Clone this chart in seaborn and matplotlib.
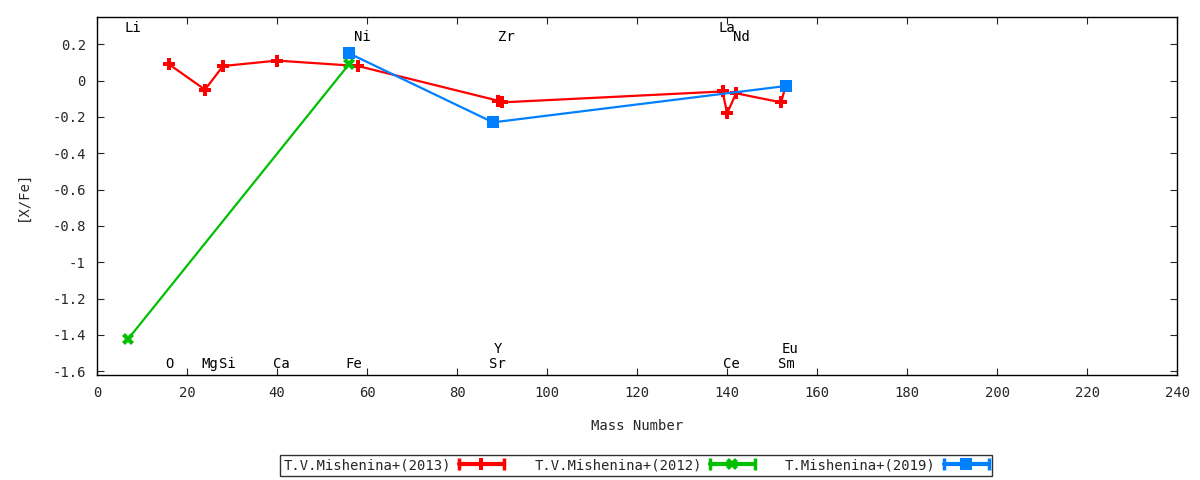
import numpy as np
import pandas as pd
import matplotlib
matplotlib.use("Agg")
import matplotlib.pyplot as plt
import seaborn as sns
from matplotlib.lines import Line2D
from matplotlib.legend_handler import HandlerLine2D

# ---- data ----
mass_2013 = [16, 24, 28, 40, 58, 89, 90, 139, 140, 142, 152, 153]
xfe_2013 = [0.09, -0.05, 0.08, 0.11, 0.08, -0.11, -0.12, -0.06, -0.18, -0.07, -0.12, -0.03]
mass_2012 = [7, 56]
xfe_2012 = [-1.42, 0.09]
mass_2019 = [56, 88, 153]
xfe_2019 = [0.15, -0.23, -0.03]

series_names = ["T.V.Mishenina+(2013)", "T.V.Mishenina+(2012)", "T.Mishenina+(2019)"]
series_colors = ["#ff0000", "#00c000", "#0080ff"]
series_markers = ["P", "X", "s"]

elem_names = ["Li", "Ni", "Zr", "La", "Nd", "O", "Mg", "Si", "Ca", "Fe", "Y", "Sr", "Ce", "Eu", "Sm"]
elem_mass = [7, 58, 90, 139, 142, 16, 24, 28, 40, 56, 89, 88, 140, 153, 152]
elem_ypos = [0.29, 0.24, 0.24, 0.29, 0.24, -1.56, -1.56, -1.56, -1.56, -1.56, -1.48, -1.56, -1.56, -1.48, -1.56]

xticks = list(range(0, 241, 20))
yticks = [0.2, 0, -0.2, -0.4, -0.6, -0.8, -1, -1.2, -1.4, -1.6]

FS = 10

# ---- style ----
sns.set_style("ticks")
plt.rcParams["font.family"] = ["DejaVu Sans Mono", "DejaVu Sans"]
plt.rcParams["font.size"] = FS

fig = plt.figure(figsize=(12, 4.8), dpi=100)
ax = fig.add_axes([0.0808, 0.219, 0.9002, 0.7456])

frames = [
    pd.DataFrame({"mass": mass_2013, "xfe": xfe_2013}),
    pd.DataFrame({"mass": mass_2012, "xfe": xfe_2012}),
    pd.DataFrame({"mass": mass_2019, "xfe": xfe_2019}),
]
sizes = [9, 8, 8]
for df, c, m, s in zip(frames, series_colors, series_markers, sizes):
    sns.lineplot(data=df, x="mass", y="xfe", ax=ax, color=c, marker=m,
                 markersize=s, markeredgewidth=0, linewidth=1.6,
                 estimator=None, sort=False, legend=False)

for name, mx, yy in zip(elem_names, elem_mass, elem_ypos):
    ax.text(mx - 0.8, yy, name, ha="left", va="center", fontsize=FS, color="black")

ax.set_xlim(0, 240)
ax.set_ylim(-1.62, 0.35)
ax.set_xticks(xticks)
ax.set_yticks(yticks)
ax.set_yticklabels([("%g" % v) for v in yticks])
ax.tick_params(direction="in", top=True, right=True, length=5, width=0.8,
               labelsize=FS, pad=8)
for sp in ax.spines.values():
    sp.set_visible(True)
    sp.set_linewidth(1.0)
    sp.set_color("black")
ax.set_xlabel("Mass Number", fontsize=FS, labelpad=14)
ax.set_ylabel("[X/Fe]", fontsize=FS, labelpad=16)


class CapHandler(HandlerLine2D):
    def create_artists(self, legend, orig_handle, xdescent, ydescent, width, height, fontsize, trans):
        arts = super().create_artists(legend, orig_handle, xdescent, ydescent, width, height, fontsize, trans)
        y = height / 2.0 - ydescent
        caps = Line2D([-xdescent, -xdescent + width], [y, y], linestyle="none",
                      marker="|", markersize=9, markeredgewidth=2.5,
                      color=orig_handle.get_color(), transform=trans)
        arts.append(caps)
        return arts


handles = [Line2D([0], [0], color=c, marker=m, markersize=8, markeredgewidth=0, linewidth=3)
           for c, m in zip(series_colors, series_markers)]
leg = fig.legend(handles, series_names, loc="center", bbox_to_anchor=(0.53, 0.031), ncol=3,
                 frameon=True, fancybox=False, markerfirst=False, handlelength=3.2,
                 columnspacing=2.2, borderpad=0.25, handletextpad=0.6, fontsize=FS,
                 borderaxespad=0.0, handler_map={Line2D: CapHandler(numpoints=1)})
leg.get_frame().set_edgecolor("black")
leg.get_frame().set_linewidth(1.0)

fig.savefig("out.png", dpi=100)
